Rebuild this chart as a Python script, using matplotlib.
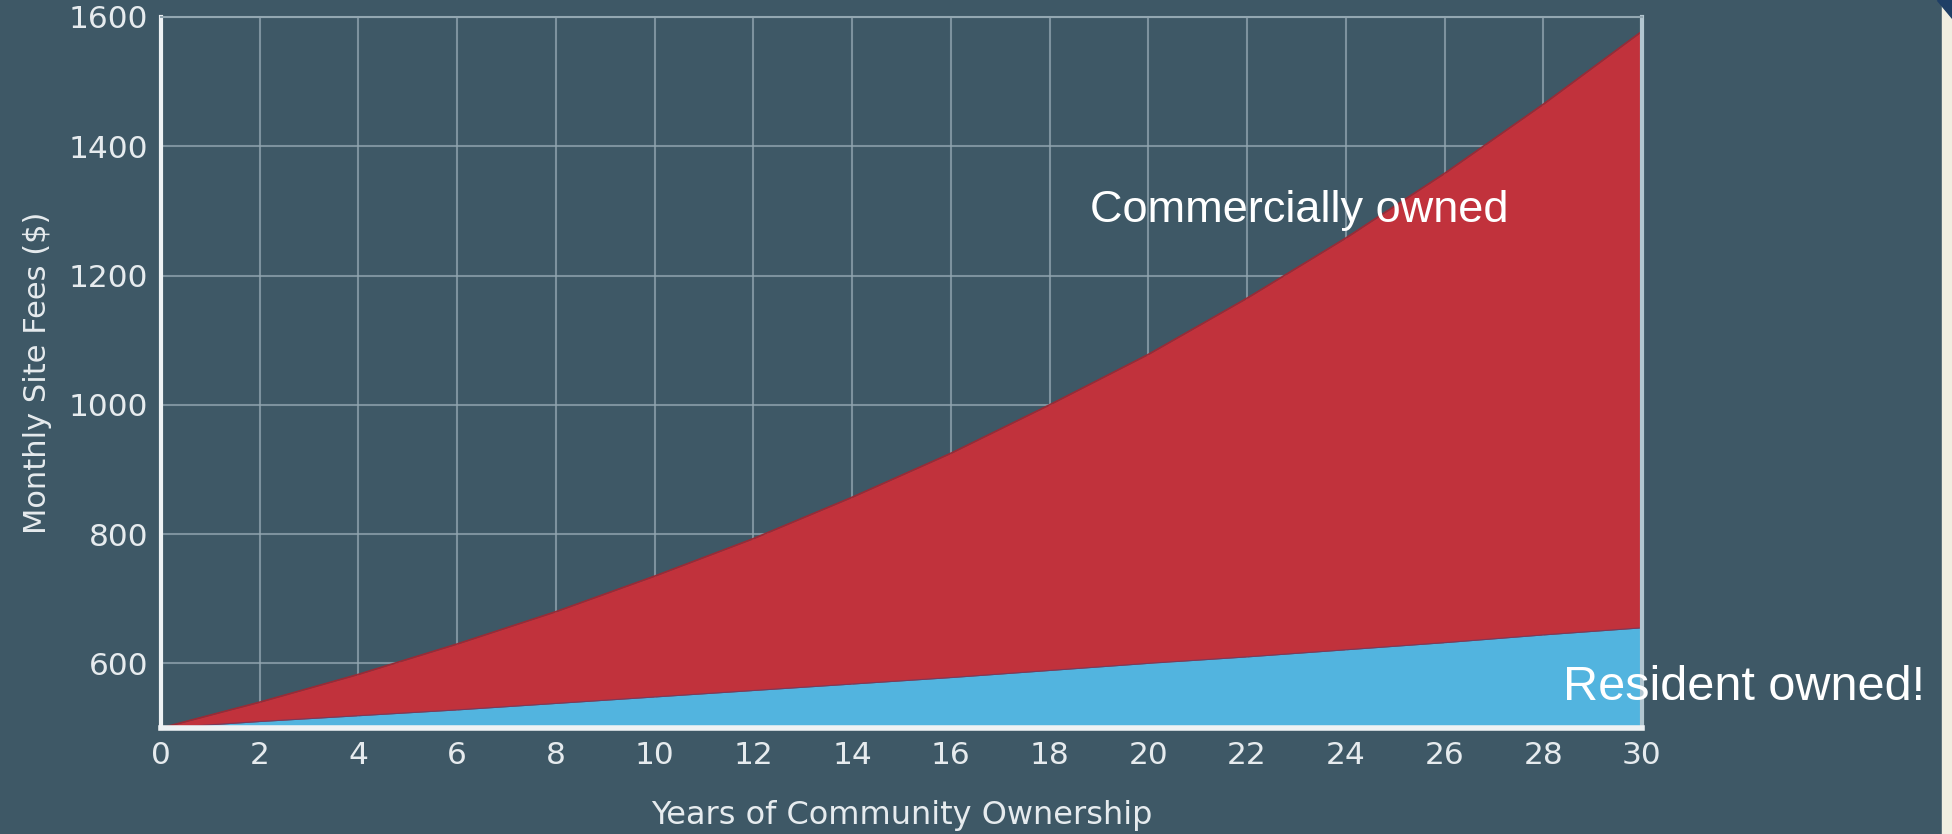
import matplotlib.pyplot as plt
import matplotlib.patches as mpatches

# years of community ownership
years = [0, 2, 4, 6, 8, 10, 12, 14, 16, 18, 20, 22, 24, 26, 28, 30]
# monthly site fees ($)
commercial = [500, 540, 583, 630, 680, 735, 793, 857, 925, 1000, 1078, 1165, 1258, 1358, 1465, 1578]
resident = [500, 510, 519, 528, 538, 548, 558, 568, 578, 589, 600, 610, 621, 632, 644, 655]

x_ticks = list(range(0, 31, 2))
y_ticks = [600, 800, 1000, 1200, 1400, 1600]

bg = "#3e5866"
red = "#c1323c"
blue = "#52b4df"
txt = "#e6ebee"

fig = plt.figure(figsize=(19.52, 8.34), dpi=100, facecolor=bg)
ax = fig.add_axes([161 / 1952, 1 - 728 / 834, (1642 - 161) / 1952, (728 - 17) / 834])
ax.set_facecolor(bg)

ax.fill_between(years, resident, commercial, color=red, lw=0, zorder=2)
ax.fill_between(years, 500, resident, color=blue, lw=0, zorder=2)
ax.plot(years, commercial, color="#9a2a35", lw=1.2, zorder=3)
ax.plot(years, resident, color="#7a3a5a", lw=0.8, zorder=3)

ax.set_xlim(0, 30)
ax.set_ylim(500, 1600)
ax.set_xticks(x_ticks)
ax.set_yticks(y_ticks)
ax.grid(True, color="#93a7b1", lw=1.5, alpha=0.75, zorder=1)
ax.set_axisbelow(True)

for s in ["left", "bottom"]:
    ax.spines[s].set_color("#eef2f4")
ax.spines["left"].set_linewidth(3)
ax.spines["bottom"].set_linewidth(4)
ax.spines["right"].set_color("#b2c6d0")
ax.spines["right"].set_linewidth(3)
ax.spines["top"].set_color("#93a7b1")
ax.spines["top"].set_linewidth(1.5)
for s in ax.spines.values():
    s.set_zorder(4)

ax.tick_params(length=0, labelsize=22.5, colors=txt, pad=9)
ax.set_xlabel("Years of Community Ownership", fontsize=23, color=txt, labelpad=22)
ax.set_ylabel("Monthly Site Fees ($)", fontsize=22, color=txt, labelpad=12)

ax.text(18.82, 1300, "Commercially owned", fontsize=32.5, color="white",
        family="Liberation Sans", va="center", zorder=5)
ax.text(28.4, 563, "Resident owned!", fontsize=35, color="white",
        family="Liberation Sans", va="center", zorder=5, clip_on=False)

# cream strip and dark corner at the right edge
fig.patches.append(mpatches.Rectangle((1942 / 1952, 0), 10 / 1952, 1,
                                      transform=fig.transFigure, color="#f1eee1", zorder=0))
fig.patches.append(mpatches.Polygon([(1937 / 1952, 1), (1952 / 1952, 1), (1952 / 1952, 1 - 18 / 834)],
                                    closed=True, transform=fig.transFigure, color="#1f3f66", zorder=1))

fig.savefig("out.png", dpi=100, facecolor=bg)
